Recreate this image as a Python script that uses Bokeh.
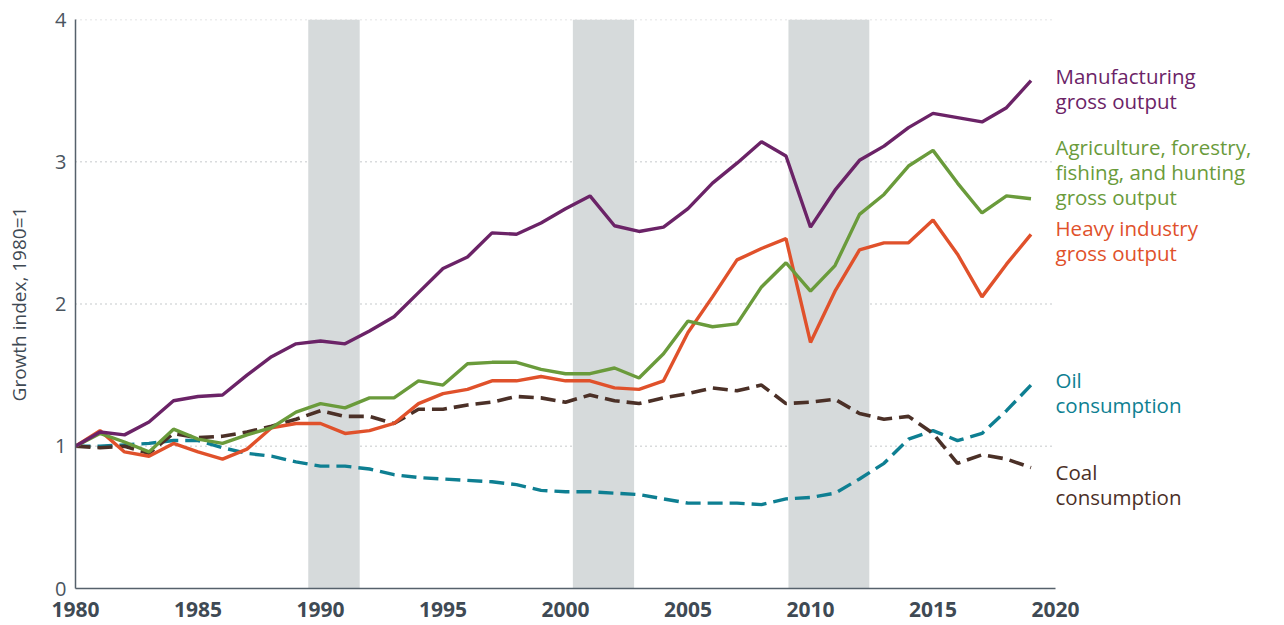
from bokeh.plotting import figure
from bokeh.models import FixedTicker, BoxAnnotation, Label
from bokeh.embed import file_html
from bokeh.resources import INLINE

years = list(range(1980, 2020))

manufacturing = [1.00, 1.10, 1.08, 1.17, 1.32, 1.35, 1.36, 1.50, 1.63, 1.72,
                 1.74, 1.72, 1.81, 1.91, 2.08, 2.25, 2.33, 2.50, 2.49, 2.57,
                 2.67, 2.76, 2.55, 2.51, 2.54, 2.67, 2.85, 2.99, 3.14, 3.04,
                 2.54, 2.80, 3.01, 3.11, 3.24, 3.34, 3.31, 3.28, 3.38, 3.57]

agriculture = [1.00, 1.09, 1.03, 0.96, 1.12, 1.05, 1.02, 1.08, 1.13, 1.24,
               1.30, 1.27, 1.34, 1.34, 1.46, 1.43, 1.58, 1.59, 1.59, 1.54,
               1.51, 1.51, 1.55, 1.48, 1.65, 1.88, 1.84, 1.86, 2.12, 2.29,
               2.09, 2.27, 2.63, 2.77, 2.97, 3.08, 2.85, 2.64, 2.76, 2.74]

heavy_industry = [1.00, 1.11, 0.96, 0.93, 1.02, 0.96, 0.91, 0.98, 1.13, 1.16,
                  1.16, 1.09, 1.11, 1.16, 1.30, 1.37, 1.40, 1.46, 1.46, 1.49,
                  1.46, 1.46, 1.41, 1.40, 1.46, 1.80, 2.05, 2.31, 2.39, 2.46,
                  1.73, 2.09, 2.38, 2.43, 2.43, 2.59, 2.35, 2.05, 2.28, 2.49]

oil = [1.00, 1.00, 1.01, 1.02, 1.04, 1.04, 0.99, 0.95, 0.93, 0.89,
       0.86, 0.86, 0.84, 0.80, 0.78, 0.77, 0.76, 0.75, 0.73, 0.69,
       0.68, 0.68, 0.67, 0.66, 0.63, 0.60, 0.60, 0.60, 0.59, 0.63,
       0.64, 0.67, 0.77, 0.88, 1.05, 1.11, 1.04, 1.09, 1.25, 1.43]

coal = [1.00, 0.99, 1.00, 0.95, 1.09, 1.06, 1.07, 1.10, 1.14, 1.19,
        1.25, 1.21, 1.21, 1.16, 1.26, 1.26, 1.29, 1.31, 1.35, 1.34,
        1.31, 1.36, 1.32, 1.30, 1.34, 1.37, 1.41, 1.39, 1.43, 1.30,
        1.31, 1.33, 1.23, 1.19, 1.21, 1.09, 0.88, 0.94, 0.91, 0.85]

recessions = [(1989.5, 1991.6), (2000.3, 2002.8), (2009.1, 2012.4)]

x_ticks = [1980, 1985, 1990, 1995, 2000, 2005, 2010, 2015, 2020]
y_ticks = [0, 1, 2, 3, 4]

FONT = "Open Sans"
AXIS_COLOR = "#56616b"
TEXT_COLOR = "#3f4a54"

# frame: left edge at 75px, 2020 at 1055px, extended to the right for the labels
W, H = 1282, 623
LEFT, TOP, BOTTOM = 75, 19, 588
PX_PER_YEAR = (1055 - LEFT) / 40.0
RIGHT_EDGE = W - 2
X0, X1 = x_ticks[0], x_ticks[-1]
X_END = X1 + (RIGHT_EDGE - 1055) / PX_PER_YEAR

p = figure(width=W, height=H, x_range=(X0, X_END), y_range=(0, 4),
           output_backend="svg", toolbar_location=None,
           min_border_left=LEFT, min_border_right=W - RIGHT_EDGE,
           min_border_top=TOP, min_border_bottom=H - BOTTOM)
p.outline_line_color = None
p.background_fill_color = "white"

for a, b in recessions:
    p.add_layout(BoxAnnotation(left=a, right=b, bottom=0, top=4,
                               fill_color="#d6dadb", fill_alpha=1.0,
                               line_color=None, level="underlay"))

# dotted horizontal gridlines limited to the data span
p.xgrid.grid_line_color = None
p.ygrid.grid_line_color = None
grid_y = [t for t in y_ticks if t > 0]
p.segment(x0=[X0] * len(grid_y), y0=grid_y, x1=[X1] * len(grid_y), y1=grid_y,
          line_color="#b3b7ba", line_dash="1 4", line_width=1.5, level="underlay")

p.xaxis.ticker = FixedTicker(ticks=x_ticks)
p.yaxis.ticker = FixedTicker(ticks=y_ticks)
p.xaxis.bounds = (X0, X1)
for ax in (p.xaxis[0], p.yaxis[0]):
    ax.axis_line_color = AXIS_COLOR
    ax.axis_line_width = 1.5
    ax.major_tick_line_color = None
    ax.minor_tick_line_color = None
    ax.major_tick_out = 0
    ax.major_tick_in = 0
    ax.minor_tick_out = 0
    ax.minor_tick_in = 0
    ax.major_label_text_font = FONT
    ax.major_label_text_color = TEXT_COLOR

p.xaxis.major_label_text_font_size = "21px"
p.xaxis.major_label_standoff = 13
p.xaxis.major_label_text_font_style = "bold"
p.yaxis.major_label_text_font_size = "20px"
p.yaxis.major_label_standoff = 9
p.yaxis.major_label_text_color = "#4a555f"
p.yaxis.axis_label = "Growth index, 1980=1"
p.yaxis.axis_label_text_font = FONT
p.yaxis.axis_label_text_font_size = "19px"
p.yaxis.axis_label_text_font_style = "normal"
p.yaxis.axis_label_text_color = TEXT_COLOR
p.yaxis.axis_label_standoff = 20

C_MAN = "#6b2367"
C_AGR = "#6a9b3b"
C_HEAVY = "#e0512b"
C_OIL = "#0e7f92"
C_COAL = "#4b3027"

p.line(years, oil, line_color=C_OIL, line_width=3.4, line_dash="15 7")
p.line(years, coal, line_color=C_COAL, line_width=3.6, line_dash="15 7")
p.line(years, heavy_industry, line_color=C_HEAVY, line_width=3.4)
p.line(years, agriculture, line_color=C_AGR, line_width=3.4)
p.line(years, manufacturing, line_color=C_MAN, line_width=3.4)

def yval(page_y):
    return (BOTTOM - page_y) / ((BOTTOM - TOP) / 4.0)

labels = [
    ("Manufacturing", 75, C_MAN), ("gross output", 100, C_MAN),
    ("Agriculture, forestry,", 146, C_AGR), ("fishing, and hunting", 171, C_AGR),
    ("gross output", 196, C_AGR),
    ("Heavy industry", 227, C_HEAVY), ("gross output", 252, C_HEAVY),
    ("Oil", 379, C_OIL), ("consumption", 404, C_OIL),
    ("Coal", 471, C_COAL), ("consumption", 496, C_COAL),
]
for txt, py, col in labels:
    p.add_layout(Label(x=X1, y=yval(py), text=txt,
                       text_color=col, text_font=FONT, text_font_size="20.5px",
                       text_font_style="normal",
                       text_baseline="middle", text_align="left"))

open("out.html", "w").write(file_html(p, INLINE))
